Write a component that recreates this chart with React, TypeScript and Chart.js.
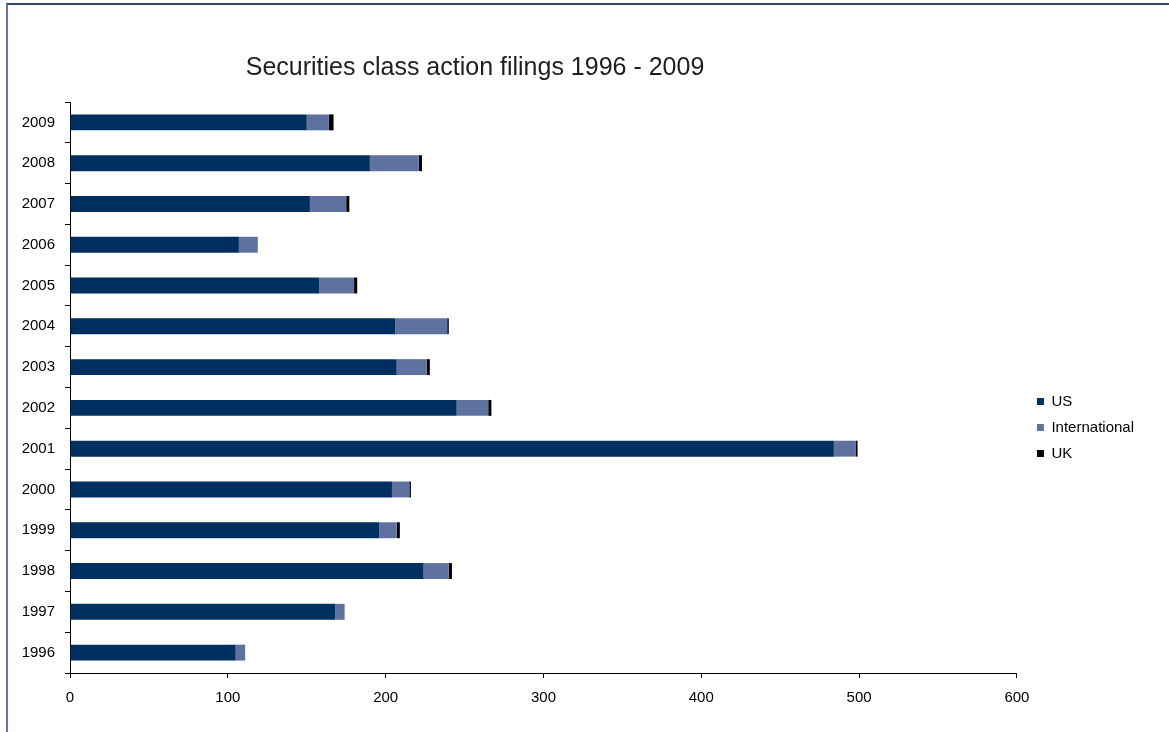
import React, { useEffect, useRef } from "react";
import { Chart, registerables } from "chart.js";

Chart.register(...registerables);

const years = ["1996", "1997", "1998", "1999", "2000", "2001", "2002", "2003", "2004", "2005", "2006", "2007", "2008", "2009"];
const usFilings = [105, 168, 224, 196, 204, 484, 245, 207, 206, 158, 107, 152, 190, 150];
const internationalFilings = [6, 6, 16, 11, 11, 14, 20, 19, 33, 22, 12, 23, 31, 14];
const ukFilings = [0, 0, 2, 2, 1, 1, 2, 2, 1, 2, 0, 2, 2, 3];
const xTicks = [0, 100, 200, 300, 400, 500, 600];
const seriesNames = ["US", "International", "UK"];
const seriesColors = ["#00305f", "#5f729f", "#000000"];
const titleText = "Securities class action filings 1996 - 2009";

const FONT = "'Liberation Sans', Arial, Helvetica, sans-serif";

export default function App() {
  const ref = useRef<HTMLCanvasElement | null>(null);

  useEffect(() => {
    document.body.style.overflow = "hidden";
    const canvas = ref.current;
    if (!canvas) return;

    const titlePlugin = {
      id: "sheetTitle",
      afterDraw(chart: any) {
        const ctx = chart.ctx;
        ctx.save();
        ctx.font = `25px ${FONT}`;
        ctx.fillStyle = "#1e1e1e";
        ctx.textAlign = "center";
        ctx.textBaseline = "alphabetic";
        ctx.fillText(titleText, 475, 75);
        ctx.restore();
      },
    };

    const chart = new Chart(canvas, {
      type: "bar",
      data: {
        labels: years,
        datasets: [
          { label: seriesNames[0], data: usFilings, backgroundColor: seriesColors[0], borderWidth: 0 },
          { label: seriesNames[1], data: internationalFilings, backgroundColor: seriesColors[1], borderWidth: 0 },
          { label: seriesNames[2], data: ukFilings, backgroundColor: seriesColors[2], borderWidth: 0 },
        ],
      },
      options: {
        indexAxis: "y",
        animation: false,
        responsive: true,
        maintainAspectRatio: false,
        datasets: { bar: { barPercentage: 0.39, categoryPercentage: 1 } },
        layout: { padding: { left: 8, top: 102, right: 25, bottom: 14 } },
        scales: {
          x: {
            type: "linear",
            stacked: true,
            min: 0,
            max: 600,
            afterBuildTicks: (s: any) => {
              s.ticks = xTicks.map((v) => ({ value: v }));
            },
            ticks: { font: { family: FONT, size: 15 }, color: "#000", padding: 11 },
            grid: { display: true, drawOnChartArea: false, drawTicks: true, tickLength: 5, color: "#000" },
            border: { display: true, color: "#000", width: 1 },
          },
          y: {
            type: "category",
            stacked: true,
            reverse: true,
            afterFit: (s: any) => {
              s.width = 62;
            },
            ticks: { font: { family: FONT, size: 15 }, color: "#000", padding: 10 },
            grid: { display: true, drawOnChartArea: false, drawTicks: true, tickLength: 5, color: "#000", offset: true },
            border: { display: true, color: "#000", width: 1 },
          },
          gap: {
            type: "linear",
            axis: "y",
            position: "right",
            display: true,
            ticks: { display: false },
            grid: { display: false, drawTicks: false },
            border: { display: false },
            afterFit: (s: any) => {
              s.width = 9;
            },
          },
        },
        plugins: {
          title: { display: false },
          tooltip: { enabled: false },
          legend: {
            display: true,
            position: "right",
            align: "center",
            title: { display: true, text: "", font: { size: 10 }, padding: { top: 23, bottom: 0 } },
            labels: {
              boxWidth: 7,
              boxHeight: 7,
              padding: 11,
              color: "#000",
              font: { family: FONT, size: 15 },
            },
          },
        },
      },
      plugins: [titlePlugin],
    } as any);

    return () => chart.destroy();
  }, []);

  return (
    <div style={{ position: "absolute", left: 0, top: 0, width: 1169, height: 732, overflow: "hidden" }}>
      <div
        style={{
          position: "absolute",
          left: 6,
          top: 3,
          width: 1163,
          height: 729,
          boxSizing: "border-box",
          borderTop: "2px solid #2f4574",
          borderLeft: "2px solid #6b7999",
        }}
      />
      <div style={{ position: "absolute", left: 0, top: 0, width: 1169, height: 732 }}>
        <canvas ref={ref} />
      </div>
    </div>
  );
}
